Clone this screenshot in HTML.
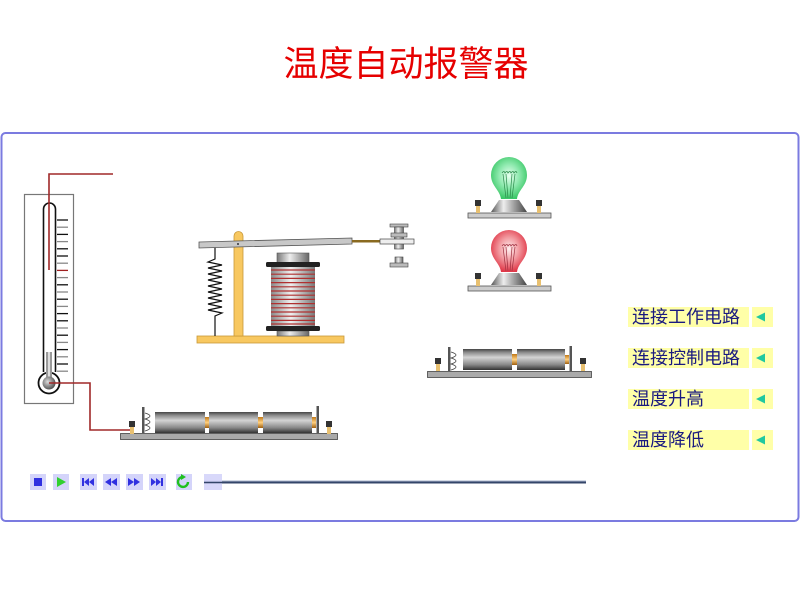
<!DOCTYPE html>
<html><head><meta charset="utf-8"><style>
html,body{margin:0;padding:0;background:#fff;width:800px;height:600px;overflow:hidden}
svg{display:block}
</style></head><body>
<svg width="800" height="600" viewBox="0 0 800 600" xmlns="http://www.w3.org/2000/svg">
<defs>
<linearGradient id="cell" x1="0" y1="0" x2="0" y2="1">
<stop offset="0" stop-color="#444"/><stop offset="0.15" stop-color="#888"/><stop offset="0.4" stop-color="#d4d4d4"/><stop offset="0.75" stop-color="#888"/><stop offset="1" stop-color="#333"/>
</linearGradient>
<linearGradient id="metal" x1="0" y1="0" x2="1" y2="0">
<stop offset="0" stop-color="#555"/><stop offset="0.35" stop-color="#eee"/><stop offset="0.6" stop-color="#aaa"/><stop offset="1" stop-color="#444"/>
</linearGradient>
<linearGradient id="core" x1="0" y1="0" x2="1" y2="0">
<stop offset="0" stop-color="#777"/><stop offset="0.4" stop-color="#eee"/><stop offset="1" stop-color="#666"/>
</linearGradient>
<linearGradient id="coil" x1="0" y1="0" x2="1" y2="0">
<stop offset="0" stop-color="#888"/><stop offset="0.45" stop-color="#f0f0f0"/><stop offset="1" stop-color="#777"/>
</linearGradient>
<radialGradient id="gbulb" cx="0.5" cy="0.45" r="0.55">
<stop offset="0" stop-color="#e8fff0"/><stop offset="0.5" stop-color="#90eab0"/><stop offset="1" stop-color="#3cc868"/>
</radialGradient>
<radialGradient id="rbulb" cx="0.5" cy="0.45" r="0.55">
<stop offset="0" stop-color="#fff0f0"/><stop offset="0.5" stop-color="#f29aa0"/><stop offset="1" stop-color="#e03848"/>
</radialGradient>
<radialGradient id="ball" cx="0.4" cy="0.4" r="0.6">
<stop offset="0" stop-color="#ddd"/><stop offset="1" stop-color="#555"/>
</radialGradient>
<linearGradient id="gold" x1="0" y1="0" x2="0" y2="1">
<stop offset="0" stop-color="#c07818"/><stop offset="0.5" stop-color="#ffd080"/><stop offset="1" stop-color="#a06010"/>
</linearGradient>
<g id="term">
<rect x="-3" y="0" width="6" height="6" fill="#333"/>
<rect x="-2" y="6" width="4" height="7" fill="#e8c070"/>
</g>
</defs>

<!-- Title -->
<text x="406" y="76" text-anchor="middle" font-family="'Liberation Sans','Noto Sans CJK SC',sans-serif" font-size="35" fill="#e60000">温度自动报警器</text>

<!-- Frame -->
<rect x="1.5" y="133" width="797" height="388" rx="4" fill="#fff" stroke="#7b7be0" stroke-width="2"/>

<!-- Thermometer -->
<rect x="24.5" y="194.5" width="49" height="209" fill="#fff" stroke="#777" stroke-width="1.2"/>
<path d="M43.5,372 L43.5,209 A6,6 0 0 1 55.5,209 L55.5,372" fill="#fff" stroke="#111" stroke-width="1.6"/>
<circle cx="49" cy="383" r="10.5" fill="#fff" stroke="#111" stroke-width="1.8"/>
<rect x="46" y="352" width="6" height="28" fill="#999"/>
<rect x="48" y="352" width="2" height="28" fill="#ddd"/>
<circle cx="49" cy="383" r="6.5" fill="url(#ball)"/>
<g stroke-width="1.3">
<line x1="57" y1="220" x2="68" y2="220" stroke="#111"/>
<line x1="57" y1="227.2" x2="68" y2="227.2" stroke="#888"/>
<line x1="57" y1="234.4" x2="68" y2="234.4" stroke="#111"/>
<line x1="57" y1="241.6" x2="68" y2="241.6" stroke="#888"/>
<line x1="57" y1="248.8" x2="68" y2="248.8" stroke="#111"/>
<line x1="57" y1="256" x2="68" y2="256" stroke="#111"/>
<line x1="57" y1="263.2" x2="68" y2="263.2" stroke="#888"/>
<line x1="57" y1="270.4" x2="68" y2="270.4" stroke="#a02020"/>
<line x1="57" y1="277.6" x2="68" y2="277.6" stroke="#888"/>
<line x1="57" y1="284.8" x2="68" y2="284.8" stroke="#111"/>
<line x1="57" y1="292" x2="68" y2="292" stroke="#888"/>
<line x1="57" y1="299.2" x2="68" y2="299.2" stroke="#111"/>
<line x1="57" y1="306.4" x2="68" y2="306.4" stroke="#888"/>
<line x1="57" y1="313.6" x2="68" y2="313.6" stroke="#111"/>
<line x1="57" y1="320.8" x2="68" y2="320.8" stroke="#111"/>
<line x1="57" y1="328" x2="68" y2="328" stroke="#888"/>
<line x1="57" y1="335.2" x2="68" y2="335.2" stroke="#111"/>
<line x1="57" y1="342.4" x2="68" y2="342.4" stroke="#888"/>
<line x1="57" y1="349.6" x2="68" y2="349.6" stroke="#111"/>
<line x1="57" y1="356.8" x2="68" y2="356.8" stroke="#888"/>
<line x1="57" y1="364" x2="68" y2="364" stroke="#111"/>
<line x1="57" y1="371.2" x2="68" y2="371.2" stroke="#888"/>
</g>
<!-- wires -->
<polyline points="113,174 49,174 49,270" fill="none" stroke="#a02828" stroke-width="1.6"/>
<polyline points="49,383 90,383 90,430 130,430" fill="none" stroke="#a02828" stroke-width="1.6"/>

<!-- Relay -->
<rect x="197" y="336" width="147" height="7" fill="#f8c860" stroke="#c89838" stroke-width="0.8"/>
<path d="M234,336 L234,236 A4.5,4.5 0 0 1 243,236 L243,336 Z" fill="#f8c860" stroke="#c89838" stroke-width="0.8"/>
<!-- spring -->
<polyline points="215,247 215,259 208,262 222,265 208,268 222,271 208,274 222,277 208,280 222,283 208,286 222,289 208,292 222,295 208,298 222,301 208,304 222,307 208,310 222,313 215,316 215,336" fill="none" stroke="#111" stroke-width="1.2"/>
<!-- lever -->
<polygon points="199,242 352,238 352,244 199,248" fill="#c8c8c8" stroke="#555" stroke-width="0.8"/>
<circle cx="238" cy="244" r="1" fill="#333"/>
<rect x="352" y="240" width="29" height="2.5" fill="#8a6a20"/>
<!-- contacts -->
<rect x="390" y="224" width="18" height="3" fill="#bbb" stroke="#444" stroke-width="0.6"/>
<rect x="394.5" y="227" width="9" height="22" fill="url(#core)" stroke="#444" stroke-width="0.6"/>
<rect x="391" y="233" width="16" height="4" fill="#bbb" stroke="#444" stroke-width="0.6"/>
<rect x="380" y="239" width="34" height="5" fill="#eee" stroke="#444" stroke-width="0.7"/>
<rect x="395" y="257" width="8" height="7" fill="url(#core)" stroke="#444" stroke-width="0.6"/>
<rect x="390" y="263" width="18" height="4" fill="#bbb" stroke="#444" stroke-width="0.6"/>
<!-- coil -->
<rect x="277" y="253" width="32" height="10" fill="url(#core)" stroke="#555" stroke-width="0.6"/>
<rect x="277" y="331" width="32" height="5" fill="url(#core)" stroke="#555" stroke-width="0.6"/>
<rect x="271" y="267" width="44" height="59" fill="url(#coil)"/>
<g stroke="#b03030" stroke-width="1.2">
<line x1="271" y1="270" x2="315" y2="270"/><line x1="271" y1="274.2" x2="315" y2="274.2"/>
<line x1="271" y1="278.4" x2="315" y2="278.4"/><line x1="271" y1="282.6" x2="315" y2="282.6"/>
<line x1="271" y1="286.8" x2="315" y2="286.8"/><line x1="271" y1="291" x2="315" y2="291"/>
<line x1="271" y1="295.2" x2="315" y2="295.2"/><line x1="271" y1="299.4" x2="315" y2="299.4"/>
<line x1="271" y1="303.6" x2="315" y2="303.6"/><line x1="271" y1="307.8" x2="315" y2="307.8"/>
<line x1="271" y1="312" x2="315" y2="312"/><line x1="271" y1="316.2" x2="315" y2="316.2"/>
<line x1="271" y1="320.4" x2="315" y2="320.4"/><line x1="271" y1="324" x2="315" y2="324"/>
</g>
<rect x="266" y="262" width="54" height="5" rx="1.5" fill="#222"/>
<rect x="266" y="326" width="54" height="5" rx="1.5" fill="#222"/>

<!-- Green lamp -->
<rect x="468" y="213" width="83" height="5" fill="#ccc" stroke="#555" stroke-width="0.8"/>
<use href="#term" x="478" y="200"/>
<use href="#term" x="539" y="200"/>
<path d="M501,199 C500,190 491,186 491,175 A18,18 0 1 1 527,175 C527,186 518,190 517,199 Z" fill="url(#gbulb)"/>
<g fill="none" stroke="#2a8a4a" stroke-width="0.7">
<path d="M502,173 q2,-3 3,0 q2,-3 3,0 q2,-3 3,0 q2,-3 3,0 q2,-3 3,0"/>
<path d="M503,174 L506,198 M515,174 L512,198 M506,174 L508,198 M512,174 L510,198"/>
</g>
<path d="M499,200 L519,200 L527,212 L491,212 Z" fill="url(#metal)"/>

<!-- Red lamp -->
<g transform="translate(0,73)">
<rect x="468" y="213" width="83" height="5" fill="#ccc" stroke="#555" stroke-width="0.8"/>
<use href="#term" x="478" y="200"/>
<use href="#term" x="539" y="200"/>
<path d="M501,199 C500,190 491,186 491,175 A18,18 0 1 1 527,175 C527,186 518,190 517,199 Z" fill="url(#rbulb)"/>
<g fill="none" stroke="#a03040" stroke-width="0.7">
<path d="M502,173 q2,-3 3,0 q2,-3 3,0 q2,-3 3,0 q2,-3 3,0 q2,-3 3,0"/>
<path d="M503,174 L506,198 M515,174 L512,198 M506,174 L508,198 M512,174 L510,198"/>
</g>
<path d="M499,200 L519,200 L527,212 L491,212 Z" fill="url(#metal)"/>
</g>

<!-- Battery 2 cells -->
<rect x="427.5" y="371.5" width="164" height="6" fill="#aaa" stroke="#444" stroke-width="0.8"/>
<use href="#term" x="438" y="358"/>
<use href="#term" x="583" y="358"/>
<rect x="448" y="347" width="2.5" height="24" fill="#555"/>
<path d="M451,352 q10,3 0,6 q10,3 0,6 q10,3 0,6" fill="none" stroke="#444" stroke-width="0.8"/>
<rect x="463" y="349" width="49" height="21" fill="url(#cell)"/>
<rect x="512" y="354" width="5" height="11" fill="url(#gold)"/>
<rect x="517" y="349" width="48" height="21" fill="url(#cell)"/>
<rect x="565" y="355" width="4" height="9" fill="url(#gold)"/>
<rect x="569.5" y="346" width="2.5" height="25" fill="#555"/>

<!-- Battery 3 cells -->
<rect x="120.5" y="433.5" width="217" height="6" fill="#aaa" stroke="#444" stroke-width="0.8"/>
<use href="#term" x="132" y="421"/>
<use href="#term" x="329" y="421"/>
<rect x="142" y="407" width="2.5" height="26" fill="#555"/>
<path d="M145,413 q10,3 0,6 q10,3 0,6 q10,3 0,6" fill="none" stroke="#444" stroke-width="0.8"/>
<rect x="155" y="412" width="50" height="21" fill="url(#cell)"/>
<rect x="205" y="417" width="4" height="11" fill="url(#gold)"/>
<rect x="209" y="412" width="49" height="21" fill="url(#cell)"/>
<rect x="258" y="417" width="5" height="11" fill="url(#gold)"/>
<rect x="263" y="412" width="49" height="21" fill="url(#cell)"/>
<rect x="312" y="417" width="4" height="11" fill="url(#gold)"/>
<rect x="316.5" y="406" width="2.5" height="27" fill="#555"/>

<!-- Playback controls -->
<g fill="#d4d4fa">
<rect x="30" y="474" width="16" height="16"/>
<rect x="53" y="474" width="16" height="16"/>
<rect x="80" y="474" width="17" height="16"/>
<rect x="103" y="474" width="17" height="16"/>
<rect x="126" y="474" width="17" height="16"/>
<rect x="149" y="474" width="17" height="16"/>
<rect x="176" y="474" width="16" height="16"/>
</g>
<rect x="34" y="478" width="8" height="8" fill="#3030e0"/>
<polygon points="57,477 66,482 57,487" fill="#30d030"/>
<g fill="#3030e0">
<rect x="82" y="478" width="2" height="8"/>
<polygon points="84,482 89,478 89,486"/><polygon points="89,482 94,478 94,486"/>
<polygon points="105,482 111,478 111,486"/><polygon points="111,482 117,478 117,486"/>
<polygon points="128,478 134,482 128,486"/><polygon points="134,478 140,482 134,486"/>
<polygon points="151,478 156,482 151,486"/><polygon points="156,478 161,482 156,486"/>
<rect x="161" y="478" width="2" height="8"/>
</g>
<path d="M188,482 A5,5 0 1 1 184,477" fill="none" stroke="#20c020" stroke-width="2.4"/>
<polygon points="181,474 186,477 181,480" fill="#20c020"/>
<line x1="204" y1="482.5" x2="586" y2="482.5" stroke="#34466a" stroke-width="2"/>
<line x1="204" y1="481" x2="586" y2="481" stroke="#aab4cc" stroke-width="1"/>
<rect x="204" y="474" width="18" height="16" fill="#d4d4fa" opacity="0.9"/>
<line x1="204" y1="482.5" x2="222" y2="482.5" stroke="#34466a" stroke-width="1.5"/>

<!-- Right buttons -->
<g font-family="'Liberation Sans','Noto Sans CJK SC',sans-serif" font-size="18" fill="#1a1a80">
<rect x="628" y="307" width="121" height="20" fill="#ffffa8"/>
<rect x="752" y="307" width="21" height="20" fill="#ffffa8"/>
<text x="632" y="323">连接工作电路</text>
<polygon points="756,317 765,312.5 765,321.5" fill="#20c8a0"/>

<rect x="628" y="348" width="121" height="20" fill="#ffffa8"/>
<rect x="752" y="348" width="21" height="20" fill="#ffffa8"/>
<text x="632" y="364">连接控制电路</text>
<polygon points="756,358 765,353.5 765,362.5" fill="#20c8a0"/>

<rect x="628" y="389" width="121" height="20" fill="#ffffa8"/>
<rect x="752" y="389" width="21" height="20" fill="#ffffa8"/>
<text x="632" y="405">温度升高</text>
<polygon points="756,399 765,394.5 765,403.5" fill="#20c8a0"/>

<rect x="628" y="430" width="121" height="20" fill="#ffffa8"/>
<rect x="752" y="430" width="21" height="20" fill="#ffffa8"/>
<text x="632" y="446">温度降低</text>
<polygon points="756,440 765,435.5 765,444.5" fill="#20c8a0"/>
</g>
</svg>
</body></html>
